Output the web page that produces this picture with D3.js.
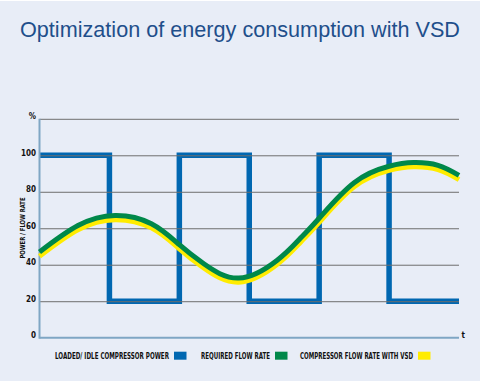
<!DOCTYPE html>
<html><head><meta charset="utf-8">
<script src="https://cdn.jsdelivr.net/npm/d3@7"></script>
<style>html,body{margin:0;padding:0;background:#fff;}svg{display:block;}</style>
</head><body>
<svg id="chart" width="482" height="381"></svg>
<script>
// ---- data ----
const title = "Optimization of energy consumption with VSD";
const yTicks = [0, 20, 40, 60, 80, 100, 120];
const yTickLabels = ["0", "20", "40", "60", "80", "100", "%"];
const yAxisTitle = "POWER / FLOW RATE";
const xAxisLabel = "t";
// loaded/idle compressor power (step after)
const powerT = [0, 1, 2, 3, 4, 5, 6];
const powerV = [100, 20, 100, 20, 100, 20, 20];
// required flow rate
const flowT = [0, 0.55, 1.08, 1.6, 2.0, 2.35, 2.85, 3.4, 3.73, 4.0, 4.5, 5.0, 5.35, 5.7, 6];
const requiredFlow = [47, 61.5, 67, 62.5, 51, 40.5, 32.7, 42.5, 54.5, 65.5, 85, 94, 96, 94.5, 89];
// compressor flow rate with VSD
const vsdFlow = [44.7, 59.2, 64.7, 60.2, 48.7, 38.2, 30.4, 40.2, 52.2, 63.2, 82.7, 91.7, 93.7, 92.2, 86.7];
const legendLabels = ["LOADED/ IDLE COMPRESSOR POWER", "REQUIRED FLOW RATE", "COMPRESSOR FLOW RATE WITH VSD"];
const colors = ["#0067b1", "#00884a", "#ffec00"];

// ---- drawing ----
const svg = d3.select("#chart");
svg.append("rect").attr("x", 0).attr("y", 1).attr("width", 480).attr("height", 380).attr("fill", "#e8edf7");

const x = d3.scaleLinear().domain([0, 6]).range([39.5, 459]);
const y = d3.scaleLinear().domain([0, 120]).range([337.7, 118.8]);
const cond = "'Liberation Sans Narrow','DejaVu Sans Condensed','Arial Narrow',sans-serif";

svg.append("text").attr("x", 20).attr("y", 36.5)
  .attr("font-family", "'Liberation Sans',Arial,sans-serif").attr("font-size", 22)
  .attr("fill", "#1f4f8b").attr("textLength", 440).attr("lengthAdjust", "spacingAndGlyphs")
  .text(title);

// power step line (below grid)
const powerData = powerT.map((t, i) => [t, powerV[i]]);
svg.append("path").datum(powerData)
  .attr("d", d3.line().x(d => x(d[0])).y(d => y(d[1])).curve(d3.curveStepAfter))
  .attr("fill", "none").attr("stroke", colors[0]).attr("stroke-width", 5.5)
  .attr("stroke-linejoin", "miter");

// grid via axis
const yAxis = d3.axisLeft(y).tickValues(yTicks).tickSize(-(x(6) - x(0))).tickPadding(3.5)
  .tickFormat(d => yTickLabels[yTicks.indexOf(d)]);
const ga = svg.append("g").attr("transform", `translate(${x(0)},0)`).call(yAxis);
ga.select(".domain").remove();
ga.selectAll(".tick line").attr("stroke", "#6e6e6e").attr("stroke-width", 1)
  .attr("opacity", d => d === 0 ? 0 : 1);
ga.selectAll(".tick text").attr("dy", "0").attr("font-family", cond).attr("font-weight", "bold")
  .attr("font-size", 8).attr("fill", "#111");

// axes lines
svg.append("line").attr("x1", x(0)).attr("x2", x(0)).attr("y1", y(120)).attr("y2", y(0) + 1)
  .attr("stroke", "#7fa6c4").attr("stroke-width", 2);
svg.append("line").attr("x1", x(0)).attr("x2", x(6)).attr("y1", y(0)).attr("y2", y(0))
  .attr("stroke", "#7fa6c4").attr("stroke-width", 2);
svg.append("text").attr("x", x(6) + 2.5).attr("y", y(0)).attr("font-family", cond)
  .attr("font-weight", "bold").attr("font-size", 8).attr("fill", "#111").text(xAxisLabel);

svg.append("text").attr("transform", "translate(24.5,228) rotate(-90)").attr("text-anchor", "middle")
  .attr("font-family", cond).attr("font-weight", "bold").attr("font-size", 7).attr("fill", "#111")
  .attr("textLength", 61).attr("lengthAdjust", "spacingAndGlyphs").text(yAxisTitle);

// curves
const curveLine = d3.line().x(d => x(d[0])).y(d => y(d[1])).curve(d3.curveNatural);
svg.append("path").datum(flowT.map((t, i) => [t, vsdFlow[i]]))
  .attr("d", curveLine).attr("fill", "none").attr("stroke", colors[2]).attr("stroke-width", 5);
svg.append("path").datum(flowT.map((t, i) => [t, requiredFlow[i]]))
  .attr("d", curveLine).attr("fill", "none").attr("stroke", colors[1]).attr("stroke-width", 5);

// legend
const legendX = [55, 201, 300];
const legendW = [114, 69, 113];
legendLabels.forEach((lab, i) => {
  svg.append("text").attr("x", legendX[i]).attr("y", 359).attr("font-family", cond)
    .attr("font-weight", "bold").attr("font-size", 8).attr("fill", "#111")
    .attr("textLength", legendW[i]).attr("lengthAdjust", "spacingAndGlyphs").text(lab);
  svg.append("rect").attr("x", legendX[i] + legendW[i] + 5).attr("y", 351.7)
    .attr("width", 12.5).attr("height", 8).attr("fill", colors[i]);
});
</script>
</body></html>
